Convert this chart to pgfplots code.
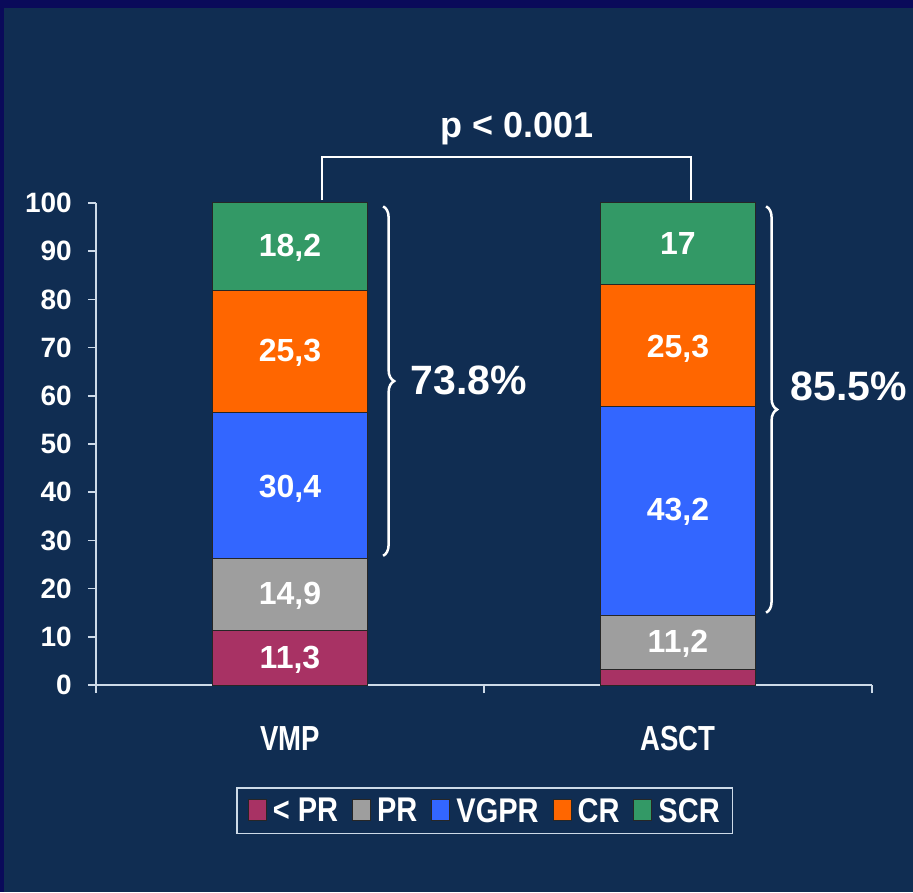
\documentclass[border=0pt]{standalone}
\usepackage{pgfplots}
\pgfplotsset{compat=1.18}
\usepackage{graphicx}
\usepackage{fontspec}
\setmainfont{Liberation Sans}
\usetikzlibrary{decorations.pathreplacing}

\definecolor{bgnavy}{RGB}{16,45,82}
\definecolor{framenavy}{RGB}{10,10,90}
\definecolor{axiscol}{RGB}{205,218,232}
\definecolor{ltpr}{RGB}{168,50,100}
\definecolor{prgray}{RGB}{158,158,158}
\definecolor{vgpr}{RGB}{51,102,255}
\definecolor{crorange}{RGB}{255,102,0}
\definecolor{scr}{RGB}{51,153,102}

\newcommand{\fsa}{\fontsize{28}{28}\selectfont\bfseries}
\newcommand{\fsb}{\fontsize{29}{29}\selectfont\bfseries}
\newcommand{\fsc}{\fontsize{32}{32}\selectfont\bfseries}
\newcommand{\fsd}{\fontsize{36}{36}\selectfont\bfseries}
\newcommand{\fse}{\fontsize{41}{41}\selectfont\bfseries}
\newcommand{\tall}[1]{\scalebox{0.95}[1.2]{#1}}
\newcommand{\taller}[1]{\scalebox{1}[1.18]{#1}}

\tikzset{
  barlab/.style={text=white, font=\fsc, text height=23pt, text depth=0pt, inner sep=0pt},
  totlab/.style={text=white, font=\fse, text height=29.4pt, text depth=0pt, inner sep=0pt, anchor=west},
}
\pgfplotsset{
  sqlegend/.style={legend image code/.code={%
    \draw[#1, draw=black!85, line width=1pt] (0pt,-10pt) rectangle (18pt,11pt);}},
}

\begin{document}
\begin{tikzpicture}
% slide background (1px = 1pt)
\fill[framenavy] (-96pt,-207pt) rectangle (817pt,685pt);
\fill[bgnavy] (-92pt,-207pt) rectangle (817pt,677pt);
\begin{axis}[
  at={(0pt,0pt)}, anchor=south west,
  scale only axis, width=776pt, height=482pt,
  xmin=-0.5, xmax=1.5, ymin=0, ymax=100,
  enlargelimits=false, clip=false,
  ybar stacked, bar width=0.4,
  axis lines*=left,
  axis line style={draw=axiscol, line width=1.5pt},
  tick align=outside,
  ytick={0,10,...,100},
  xtick={-0.5,0.5,1.5}, xticklabels={},
  extra x ticks={0,1}, extra x tick labels={\tall{VMP},\tall{ASCT}},
  extra x tick style={major tick length=0pt},
  major tick length=8pt,
  tick style={draw=axiscol, line width=1.5pt},
  /pgf/number format/assume math mode=true,
  tick label style={text=white},
  yticklabel style={font=\fsa, anchor=east, inner sep=0pt, xshift=-16pt},
  xticklabel style={font=\fsb, anchor=base, inner sep=0pt, yshift=-65pt},
  legend style={at={(0.501,-0.261)}, anchor=center, draw=axiscol, line width=1.5pt,
    fill=bgnavy, text=white, font=\fsb, legend columns=5,
    /tikz/every even column/.append style={column sep=12pt},
    /tikz/every odd column/.append style={column sep=4pt},
    inner xsep=11pt, inner ysep=8pt},
]
\addplot[fill=ltpr, draw=black!85, line width=1pt, sqlegend] coordinates {(0,11.3) (1,3.3)};
\addplot[fill=prgray, draw=black!85, line width=1pt, sqlegend] coordinates {(0,14.9) (1,11.2)};
\addplot[fill=vgpr, draw=black!85, line width=1pt, sqlegend] coordinates {(0,30.4) (1,43.2)};
\addplot[fill=crorange, draw=black!85, line width=1pt, sqlegend] coordinates {(0,25.3) (1,25.3)};
\addplot[fill=scr, draw=black!85, line width=1pt, sqlegend] coordinates {(0,18.2) (1,17)};
\legend{\taller{< PR}, \taller{PR}, \taller{VGPR}, \taller{CR}, \taller{SCR}}

% anchors for the values inside the bars (typeset after the axis, on top of the bars)
\coordinate (v1) at (axis cs:0,5.9);
\coordinate (v2) at (axis cs:0,19.0);
\coordinate (v3) at (axis cs:0,41.2);
\coordinate (v4) at (axis cs:0,69.4);
\coordinate (v5) at (axis cs:0,91.2);
\coordinate (a2) at (axis cs:1,9.1);
\coordinate (a3) at (axis cs:1,36.6);
\coordinate (a4) at (axis cs:1,70.4);
\coordinate (a5) at (axis cs:1,91.6);

% braces and totals
\draw[white, line width=2.5pt, decorate, decoration={brace, amplitude=11pt}]
  (axis cs:0.24,99.3) -- (axis cs:0.24,26.8);
\draw[white, line width=2.5pt, decorate, decoration={brace, amplitude=11pt}]
  (axis cs:1.227,99.3) -- (axis cs:1.227,15.0);
\node[totlab] at (axis cs:0.31,63.3) {73.8\%};
\node[totlab] at (axis cs:1.29,62) {85.5\%};

% significance bracket
\draw[white, line width=2.5pt] (axis cs:0.082,100.6) |- (axis cs:1.0335,109.5) -- (axis cs:1.0335,100.6);
\node[text=white, font=\fsd, text height=25.8pt, text depth=0pt, inner sep=0pt]
  at (axis cs:0.585,116.2) {p < 0.001};
\end{axis}
\node[barlab] at (v1) {11,3};
\node[barlab] at (v2) {14,9};
\node[barlab] at (v3) {30,4};
\node[barlab] at (v4) {25,3};
\node[barlab] at (v5) {18,2};
\node[barlab] at (a2) {11,2};
\node[barlab] at (a3) {43,2};
\node[barlab] at (a4) {25,3};
\node[barlab] at (a5) {17};
\end{tikzpicture}
\end{document}
